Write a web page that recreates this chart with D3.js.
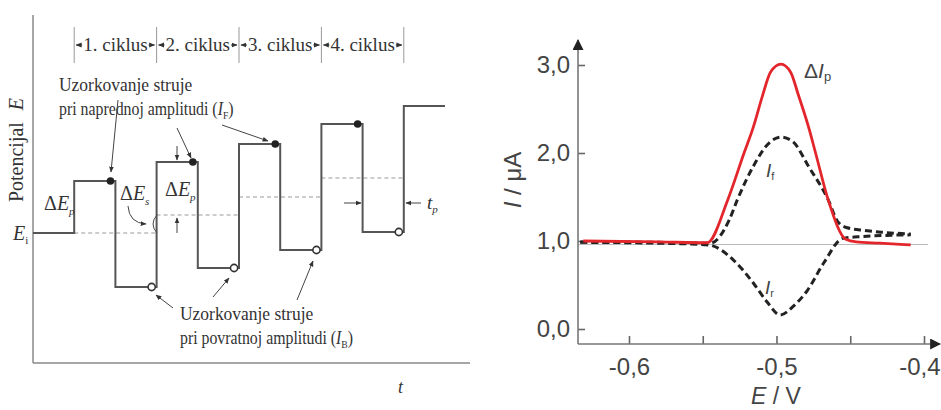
<!DOCTYPE html>
<html>
<head>
<meta charset="utf-8">
<script src="https://cdn.jsdelivr.net/npm/d3@7"></script>
<style>
  body { margin: 0; background: #fff; }
  svg { display: block; }
  .serif { font-family: "Liberation Serif", "DejaVu Serif", serif; fill: #333; }
  .sans { font-family: "Liberation Sans", Arial, sans-serif; fill: #444; }
</style>
</head>
<body>
<script>
(function(){

    //left panel: square wave waveform (potential in px-like units, E_i = 0)
    var cycleLabels = ["1. ciklus", "2. ciklus", "3. ciklus", "4. ciklus"];
    var stepLevels = [0, 18, 36, 55];          //staircase potential per cycle
    var forwardE = [52, 71, 89, 109, 127];     //forward pulse potential
    var reverseE = [-54, -35, -17, 1];         //reverse pulse potential

    //right panel: voltammogram [E / V, I / uA]
    var deltaI = [[-0.631, 1.0], [-0.58, 0.99], [-0.547, 0.98], [-0.533, 1.47], [-0.522, 2.0],
        [-0.516, 2.28], [-0.5095, 2.65], [-0.504, 2.92], [-0.497, 3.01], [-0.4905, 2.92],
        [-0.485, 2.65], [-0.478, 2.28], [-0.4735, 2.0], [-0.465, 1.47], [-0.453, 1.02],
        [-0.446, 0.99], [-0.43, 0.975], [-0.409, 0.955]];
    var forwardI = [[-0.633, 0.99], [-0.58, 0.985], [-0.545, 0.975], [-0.532, 1.24], [-0.5265, 1.47],
        [-0.516, 1.84], [-0.504, 2.13], [-0.497, 2.18], [-0.489, 2.13], [-0.478, 1.84],
        [-0.465, 1.47], [-0.4585, 1.22], [-0.452, 1.15], [-0.44, 1.12], [-0.429, 1.10], [-0.409, 1.08]];
    var reverseI = [[-0.633, 0.985], [-0.58, 0.975], [-0.546, 0.955], [-0.529, 0.78], [-0.5156, 0.52],
        [-0.5065, 0.31], [-0.4975, 0.16], [-0.4885, 0.26], [-0.479, 0.44], [-0.468, 0.75],
        [-0.455, 1.03], [-0.443, 1.05], [-0.409, 1.07]];
    var baseLevel = 0.96;
    var yTicks = [0, 1, 2, 3];
    var yTickLabels = ["0,0", "1,0", "2,0", "3,0"];
    var xTicks = [-0.6, -0.55, -0.5, -0.45, -0.4];
    var xTickLabels = {"-0.6": "-0,6", "-0.5": "-0,5", "-0.4": "-0,4"};

    var svg = d3.select("body").append("svg")
        .attr("width", 941)
        .attr("height", 410);

    var defs = svg.append("defs");
    defs.append("marker")
        .attr("id", "tip")
        .attr("viewBox", "0 0 10 10")
        .attr("refX", 9).attr("refY", 5)
        .attr("markerWidth", 6).attr("markerHeight", 6)
        .attr("markerUnits", "userSpaceOnUse")
        .attr("orient", "auto-start-reverse")
        .append("path").attr("d", "M0,1 L10,5 L0,9 Z").attr("fill", "#333");
    defs.append("marker")
        .attr("id", "bigtip")
        .attr("viewBox", "0 0 10 10")
        .attr("refX", 9).attr("refY", 5)
        .attr("markerWidth", 13).attr("markerHeight", 11)
        .attr("markerUnits", "userSpaceOnUse")
        .attr("orient", "auto")
        .append("path").attr("d", "M0,0 L10,5 L0,10 Z").attr("fill", "#222");

    // ---------------- left panel ----------------
    var left = svg.append("g");
    var tScale = d3.scaleLinear().domain([0, 10]).range([33, 445]);
    var eScale = d3.scaleLinear().domain([0, 100]).range([233, 133]);

    //axes
    left.append("line").attr("x1", 33).attr("x2", 33).attr("y1", 15).attr("y2", 363)
        .attr("stroke", "#888").attr("stroke-width", 1.5);
    left.append("line").attr("x1", 33).attr("x2", 470).attr("y1", 363).attr("y2", 363)
        .attr("stroke", "#888").attr("stroke-width", 1.5);

    left.append("text").attr("class", "serif")
        .attr("transform", "translate(23,150) rotate(-90)")
        .attr("text-anchor", "middle").attr("font-size", 20)
        .text("Potencijal ")
        .append("tspan").attr("dx", 7).attr("font-style", "italic").text("E");

    left.append("text").attr("class", "serif").attr("x", 398).attr("y", 393)
        .attr("font-size", 18).attr("font-style", "italic").text("t");

    var ei = left.append("text").attr("class", "serif").attr("x", 13).attr("y", 240)
        .attr("font-size", 20).attr("font-style", "italic").text("E");
    ei.append("tspan").attr("font-size", 11).attr("dy", 4).attr("font-style", "normal").text("i");

    //staircase mid levels
    left.selectAll(".mid").data(stepLevels).enter().append("line")
        .attr("class", "mid")
        .attr("x1", function(d, i){ return tScale(1 + 2 * i); })
        .attr("x2", function(d, i){ return tScale(3 + 2 * i); })
        .attr("y1", function(d){ return eScale(d); })
        .attr("y2", function(d){ return eScale(d); })
        .attr("stroke", "#999").attr("stroke-width", 1).attr("stroke-dasharray", "4,3");

    //waveform
    var wave = [[0, 0]];
    forwardE.forEach(function(f, i){
        wave.push([1 + 2 * i, f]);
        if (i < reverseE.length) wave.push([2 + 2 * i, reverseE[i]]);
    });
    wave.push([10, forwardE[forwardE.length - 1]]);

    var waveLine = d3.line()
        .x(function(d){ return tScale(d[0]); })
        .y(function(d){ return eScale(d[1]); })
        .curve(d3.curveStepAfter);
    left.append("path").datum(wave).attr("d", waveLine)
        .attr("fill", "none").attr("stroke", "#555").attr("stroke-width", 2);

    //sampling points
    left.selectAll(".fdot").data(forwardE.slice(0, 4)).enter().append("circle")
        .attr("cx", function(d, i){ return tScale(1.88 + 2 * i); })
        .attr("cy", function(d){ return eScale(d); })
        .attr("r", 3.8).attr("fill", "#222");
    left.selectAll(".rdot").data(reverseE).enter().append("circle")
        .attr("cx", function(d, i){ return tScale(2.88 + 2 * i); })
        .attr("cy", function(d){ return eScale(d); })
        .attr("r", 3.6).attr("fill", "#fff").attr("stroke", "#333").attr("stroke-width", 1.6);

    //cycle header
    var headY = 45;
    [1, 3, 5, 7, 9].forEach(function(t){
        left.append("line").attr("x1", tScale(t)).attr("x2", tScale(t))
            .attr("y1", 27).attr("y2", 63).attr("stroke", "#999").attr("stroke-width", 1);
    });
    cycleLabels.forEach(function(lab, i){
        var cx = tScale(2 + 2 * i);
        var txt = left.append("text").attr("class", "serif")
            .attr("x", cx).attr("y", headY + 6)
            .attr("text-anchor", "middle").attr("font-size", 19).text(lab);
        var w = txt.node().getComputedTextLength();
        var x0 = tScale(1 + 2 * i), x1 = tScale(3 + 2 * i);
        left.append("line").attr("x1", cx - w / 2 - 1).attr("x2", x0 + 2)
            .attr("y1", headY).attr("y2", headY)
            .attr("stroke", "#333").attr("stroke-width", 1).attr("marker-end", "url(#tip)");
        left.append("line").attr("x1", cx + w / 2 + 1).attr("x2", x1 - 2)
            .attr("y1", headY).attr("y2", headY)
            .attr("stroke", "#333").attr("stroke-width", 1).attr("marker-end", "url(#tip)");
    });

    //annotation text (second line squeezed a little, as in the figure)
    function twoLine(x, y, l1, l2, sub){
        left.append("text").attr("class", "serif").attr("font-size", 18)
            .attr("transform", "translate(" + x + "," + y + ") scale(0.97,1)")
            .text(l1);
        var t = left.append("text").attr("class", "serif").attr("font-size", 18)
            .attr("transform", "translate(" + x + "," + (y + 24) + ") scale(0.88,1)");
        t.append("tspan").text(l2 + " (");
        t.append("tspan").attr("font-style", "italic").text("I");
        t.append("tspan").attr("font-size", 11).attr("dy", 4).text(sub);
        t.append("tspan").attr("dy", -4).text(")");
    }
    twoLine(59, 91, "Uzorkovanje struje", "pri naprednoj amplitudi", "F");
    twoLine(180, 320, "Uzorkovanje struje", "pri povratnoj amplitudi", "B");

    function arrow(x1, y1, x2, y2){
        left.append("line").attr("x1", x1).attr("y1", y1).attr("x2", x2).attr("y2", y2)
            .attr("stroke", "#444").attr("stroke-width", 1).attr("marker-end", "url(#tip)");
    }
    arrow(118, 100, 111, 172);
    arrow(177, 128, 191, 158);
    arrow(222, 125, 268, 141);
    arrow(177, 146, 177, 160);
    arrow(177, 233, 177, 218);
    arrow(173, 308, 156, 295);
    arrow(213, 297, 229, 278);
    arrow(297, 300, 313, 261);
    arrow(344, 203, 361, 203);
    arrow(421, 203, 406, 203);

    function deltaE(x, y, sub){
        var t = left.append("text").attr("class", "serif").attr("x", x).attr("y", y).attr("font-size", 20);
        t.append("tspan").text("Δ");
        t.append("tspan").attr("font-style", "italic").text("E");
        t.append("tspan").attr("font-size", 11).attr("dy", 5).attr("font-style", "italic").text(sub);
    }
    deltaE(44, 210, "p");
    deltaE(120, 200, "s");
    deltaE(165, 196, "p");

    var tp = left.append("text").attr("class", "serif").attr("x", 427).attr("y", 209)
        .attr("font-size", 19).attr("font-style", "italic").text("t");
    tp.append("tspan").attr("font-size", 11).attr("dy", 4).text("p");

    //curved pointer and bracket for step height
    left.append("path").attr("d", "M128,206 Q129,223 146,224")
        .attr("fill", "none").attr("stroke", "#444").attr("stroke-width", 1).attr("marker-end", "url(#tip)");
    left.append("path").attr("d", "M157,215 Q149,224 157,233")
        .attr("fill", "none").attr("stroke", "#444").attr("stroke-width", 1);

    // ---------------- right panel ----------------
    var right = svg.append("g");
    var xScale = d3.scaleLinear().domain([-0.6, -0.4]).range([629, 924]);
    var yScale = d3.scaleLinear().domain([0, 3]).range([329, 65]);
    var axisX0 = 578, axisY0 = 344;

    //baseline
    right.append("line")
        .attr("x1", axisX0).attr("x2", 928)
        .attr("y1", yScale(baseLevel)).attr("y2", yScale(baseLevel))
        .attr("stroke", "#bbb").attr("stroke-width", 1.2);

    var yAxis = d3.axisLeft(yScale)
        .tickValues(yTicks)
        .tickSizeInner(-7).tickSizeOuter(0).tickPadding(8)
        .tickFormat(function(d, i){ return yTickLabels[i]; });
    var gy = right.append("g").attr("transform", "translate(" + axisX0 + ",0)").call(yAxis);
    gy.select(".domain").remove();

    var xAxis = d3.axisBottom(xScale)
        .tickValues(xTicks)
        .tickSizeInner(-8).tickSizeOuter(0).tickPadding(14)
        .tickFormat(function(d){ return xTickLabels[String(d)] || ""; });
    var gx = right.append("g").attr("transform", "translate(0," + axisY0 + ")").call(xAxis);
    gx.select(".domain").remove();

    right.selectAll(".tick line").attr("stroke", "#666").attr("stroke-width", 1.6);
    right.selectAll(".tick text")
        .attr("font-family", "Liberation Sans, Arial, sans-serif")
        .attr("font-size", 24).attr("fill", "#444");
    gx.selectAll(".tick text").attr("dy", "0.71em");
    //keep the last label inside the picture
    gx.selectAll(".tick text").filter(function(d){ return d === -0.4; })
        .attr("text-anchor", "end").attr("x", 16);

    //axis lines with arrows
    right.append("line").attr("x1", axisX0).attr("x2", axisX0).attr("y1", axisY0).attr("y2", 40)
        .attr("stroke", "#777").attr("stroke-width", 1.6).attr("marker-end", "url(#bigtip)");
    right.append("line").attr("x1", axisX0).attr("x2", 940).attr("y1", axisY0).attr("y2", axisY0)
        .attr("stroke", "#777").attr("stroke-width", 1.6).attr("marker-end", "url(#bigtip)");

    //curves
    var line = d3.line()
        .x(function(d){ return xScale(d[0]); })
        .y(function(d){ return yScale(d[1]); })
        .curve(d3.curveMonotoneX);

    right.append("path").datum(reverseI).attr("d", line)
        .attr("fill", "none").attr("stroke", "#222").attr("stroke-width", 3)
        .attr("stroke-dasharray", "7,4");
    right.append("path").datum(forwardI).attr("d", line)
        .attr("fill", "none").attr("stroke", "#222").attr("stroke-width", 3)
        .attr("stroke-dasharray", "7,4");
    right.append("path").datum(deltaI).attr("d", line)
        .attr("fill", "none").attr("stroke", "#e3262b").attr("stroke-width", 2.8);

    //labels
    var dl = right.append("text").attr("class", "sans").attr("x", 804).attr("y", 78).attr("font-size", 21);
    dl.append("tspan").text("Δ");
    dl.append("tspan").attr("font-style", "italic").text("I");
    dl.append("tspan").attr("font-size", 13).attr("dy", 3).text("p");

    var lf = right.append("text").attr("class", "sans").attr("x", 766).attr("y", 177).attr("font-size", 19);
    lf.append("tspan").attr("font-style", "italic").text("I");
    lf.append("tspan").attr("font-size", 11).attr("dy", 3).text("f");

    var lr = right.append("text").attr("class", "sans").attr("x", 765).attr("y", 294).attr("font-size", 19);
    lr.append("tspan").attr("font-style", "italic").text("I");
    lr.append("tspan").attr("font-size", 11).attr("dy", 3).text("r");

    var yl = right.append("text").attr("class", "sans")
        .attr("transform", "translate(521,180) rotate(-90)")
        .attr("text-anchor", "middle").attr("font-size", 24);
    yl.append("tspan").attr("font-style", "italic").text("I");
    yl.append("tspan").text(" / μA");

    var xl = right.append("text").attr("class", "sans")
        .attr("x", 776).attr("y", 404)
        .attr("text-anchor", "middle").attr("font-size", 23);
    xl.append("tspan").attr("font-style", "italic").text("E");
    xl.append("tspan").text(" / V");

})();
</script>
</body>
</html>
